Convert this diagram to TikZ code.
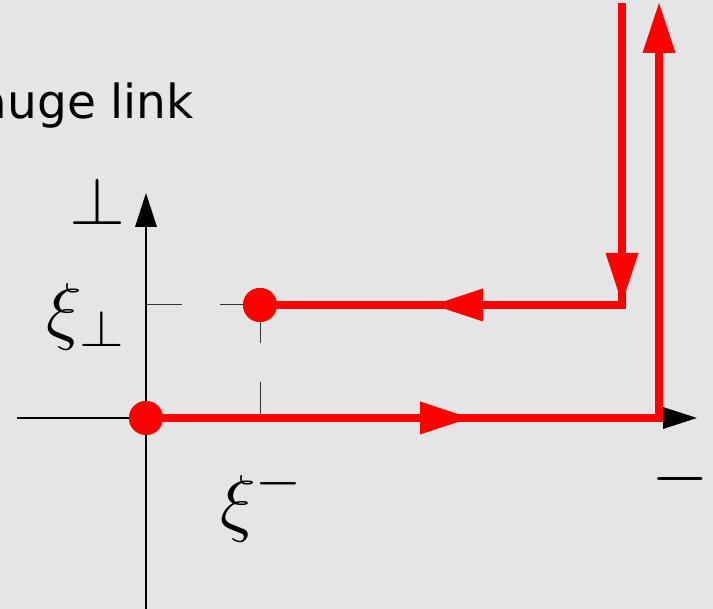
\RequirePackage{fix-cm}
\documentclass[tikz,border=0pt]{standalone}
\usepackage{graphicx}
\usepackage{fontspec}
\newfontfamily\dejavu{DejaVu Sans}
\usetikzlibrary{arrows.meta,decorations.markings}
\definecolor{bg}{RGB}{229,229,229}
\begin{document}
\begin{tikzpicture}[x=1pt,y=-1pt,
  axis/.style={line width=1.3pt, black, -{Triangle[length=34pt,width=22pt,line width=0pt]}},
  guide/.style={line width=1pt, black!80},
  link/.style={red, line width=8pt},
  bigtip/.style={Triangle[length=50pt,width=33pt,line width=0pt]},
  dot/.style={circle, fill=red, minimum size=34pt, inner sep=0pt},
  lbl/.style={inner sep=0pt, outer sep=0pt}]
\fill[bg] (0,0) rectangle (713,609);
\useasboundingbox (0,0) rectangle (713,609);
\clip (0,0) rectangle (713,609);
% coordinates
\coordinate (yb) at (146,609);
\coordinate (yt) at (146,193);
\coordinate (xl) at (17,418);
\coordinate (xr) at (697,418);
\coordinate (c1) at (659,418);
\coordinate (e1) at (659,3);
\coordinate (s2) at (622,3);
\coordinate (c2) at (622,305);
\coordinate (g1) at (182,305);
\coordinate (g2) at (220,305);
\coordinate (g3) at (260,343);
\coordinate (g4) at (260,382);
\coordinate (g5) at (260,418);
\coordinate (gy) at (146,305);
% dots (placed first, drawn on top later)
\node[dot] (a) at (146,418) {};
\node[dot] (b) at (260,305) {};
% axes
\draw[axis] (yb) -- (yt);
\draw[axis] (xl) -- (xr);
% guides
\draw[guide] (gy) -- (g1);
\draw[guide] (g2) -- (b.center) -- (g3);
\draw[guide] (g4) -- (g5);
% red links
\draw[link, -{Triangle[length=50pt,width=33pt,line width=0pt]},
  postaction={decorate},
  decoration={markings, mark=at position 324pt with {\arrow{Triangle[length=50pt,width=33pt,line width=0pt]}}}]
  (a.center) -- (c1) -- (e1);
\draw[link, postaction={decorate},
  decoration={markings,
    mark=at position 300pt with {\arrow{Triangle[length=50pt,width=33pt,line width=0pt]}},
    mark=at position 491pt with {\arrow{Triangle[length=50pt,width=33pt,line width=0pt]}}}]
  (s2) -- (c2) -- (b.center);
\node[dot] at (a) {};
\node[dot] at (b) {};
% labels
\node[lbl, anchor=base east] (title) at (194,119) {\dejavu\fontsize{47}{56}\selectfont gauge link};
\node[lbl, anchor=south] (perp) at (97.5,225) {\resizebox{56pt}{47pt}{$\perp$}};
\node[lbl, anchor=base west] (xiperp) at (46,336) {\fontsize{75}{90}\selectfont$\xi$\kern-2pt\raisebox{-11pt}{\resizebox{44.6pt}{36pt}{$\perp$}}};
\node[lbl, anchor=base west] (ximinus) at (220,528) {\fontsize{75}{90}\selectfont$\xi$\raisebox{29.25pt}{\fontsize{59}{70}\selectfont$-$}};
\node[lbl, anchor=base west] (minus) at (651,497.5) {\fontsize{74}{88}\selectfont$-$};
\end{tikzpicture}
\end{document}
